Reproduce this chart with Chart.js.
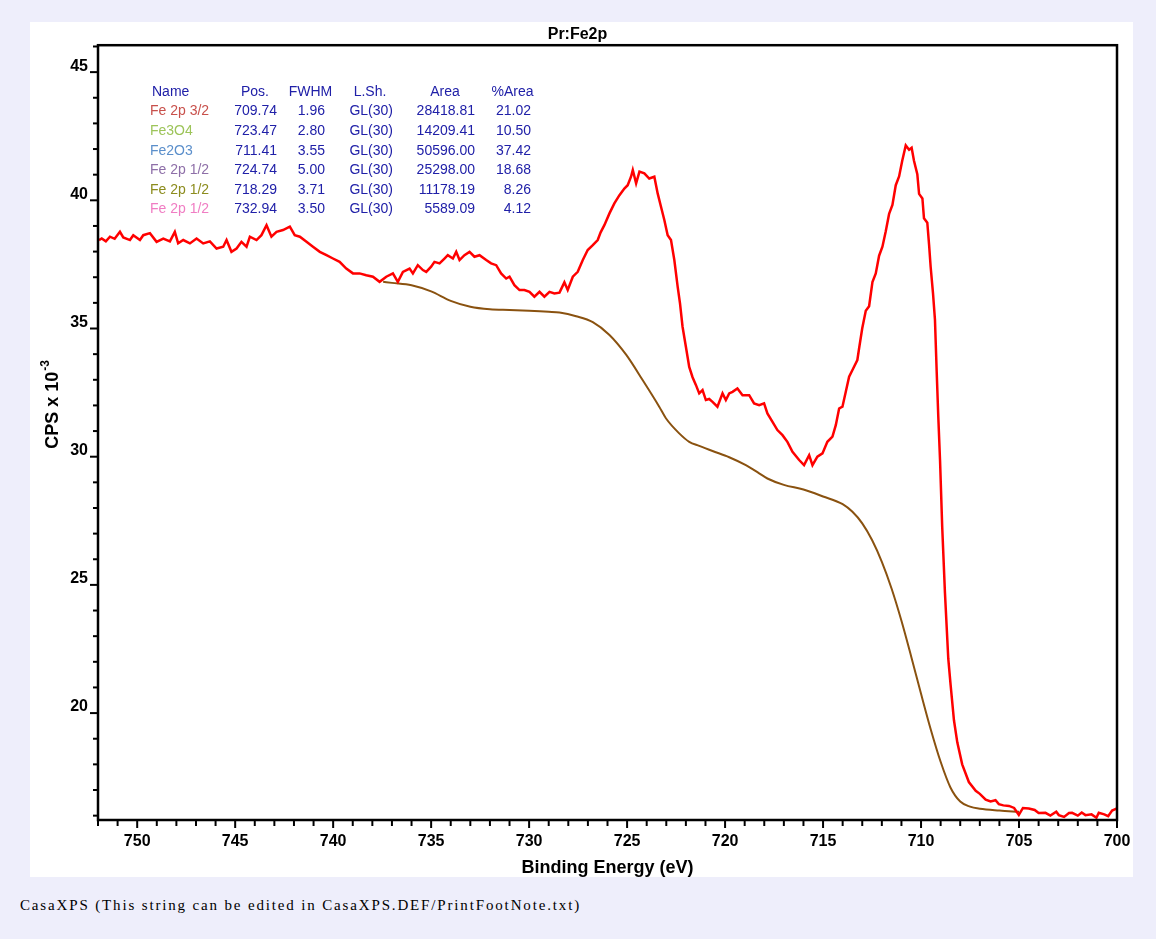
<!DOCTYPE html>
<html>
<head>
<meta charset="utf-8">
<script src="https://cdn.jsdelivr.net/npm/chart.js@4.4.1/dist/chart.umd.min.js"></script>
<style>
  body { margin: 0; background: #eeeefb; width: 1156px; height: 939px; overflow: hidden; position: relative; }
  #panel { position: absolute; left: 30px; top: 22px; width: 1103px; height: 855px; background: #fff; }
  #foot { position: absolute; left: 20px; top: 897px; font: 15px "Liberation Serif", serif; color: #000; white-space: nowrap; }
</style>
</head>
<body>
<div id="panel"><canvas id="xps" width="1103" height="855"></canvas></div>
<div id="foot">CasaXPS (This string can be edited in CasaXPS.DEF/PrintFootNote.txt)</div>
<script>
// measured spectrum, binding energy (eV) vs CPS x 10^-3
const energy = [751.95,751.81,751.60,751.39,751.15,750.88,750.71,750.37,750.20,749.86,749.69,749.35,749.01,748.67,748.33,748.08,747.91,747.65,747.31,746.97,746.63,746.29,745.95,745.61,745.44,745.19,744.93,744.68,744.42,744.25,743.91,743.66,743.40,743.15,742.89,742.56,742.21,741.96,741.70,741.36,741.03,740.68,740.34,740.01,739.67,739.33,738.99,738.65,738.31,737.97,737.63,737.29,736.95,736.70,736.44,736.10,735.93,735.68,735.42,735.25,735.00,734.83,734.57,734.32,734.15,733.89,733.72,733.55,733.30,733.04,732.79,732.53,732.19,731.94,731.68,731.43,731.17,731.00,730.75,730.49,730.24,729.98,729.73,729.47,729.22,728.96,728.71,728.45,728.20,728.03,727.77,727.52,727.26,727.01,726.75,726.50,726.35,726.16,725.90,725.65,725.39,725.14,724.97,724.80,724.71,724.54,724.37,724.12,723.87,723.61,723.44,723.27,723.10,722.93,722.76,722.59,722.42,722.30,722.17,722.00,721.83,721.66,721.49,721.32,721.15,720.98,720.81,720.64,720.39,720.13,719.96,719.79,719.62,719.37,719.11,718.77,718.52,718.26,718.01,717.84,717.58,717.33,717.07,716.82,716.56,716.22,715.97,715.71,715.54,715.29,715.03,714.78,714.52,714.35,714.18,714.01,713.84,713.67,713.50,713.25,713.16,713.00,712.82,712.65,712.48,712.31,712.14,711.97,711.80,711.63,711.46,711.29,711.12,710.96,710.78,710.61,710.48,710.36,710.19,710.10,709.93,709.85,709.68,709.59,709.51,709.39,709.29,709.20,709.12,709.03,708.92,708.78,708.61,708.49,708.32,708.15,707.90,707.56,707.21,707.00,706.70,706.45,706.20,706.03,705.80,705.51,705.25,705.01,704.80,704.50,704.20,704.00,703.65,703.40,703.10,702.97,702.70,702.45,702.29,702.00,701.80,701.61,701.30,701.05,700.93,700.65,700.45,700.25,700.00];
const cps = [38.45,38.51,38.40,38.58,38.50,38.77,38.55,38.45,38.64,38.45,38.64,38.72,38.38,38.51,38.40,38.77,38.32,38.45,38.32,38.51,38.32,38.40,38.12,38.19,38.45,37.99,38.12,38.38,38.19,38.58,38.45,38.64,39.03,38.58,38.77,38.84,38.97,38.64,38.58,38.38,38.19,37.99,37.86,37.73,37.60,37.34,37.15,37.15,37.08,37.02,36.82,37.02,37.15,36.82,37.21,37.34,37.15,37.47,37.28,37.21,37.41,37.60,37.54,37.73,37.86,37.73,37.99,37.67,37.86,37.99,37.80,37.86,37.67,37.54,37.47,37.15,36.95,37.02,36.69,36.50,36.50,36.43,36.24,36.43,36.24,36.43,36.37,36.40,36.80,36.50,37.02,37.21,37.67,38.06,38.25,38.45,38.75,39.03,39.49,39.88,40.20,40.46,40.59,40.92,41.18,40.66,41.12,41.05,40.85,40.92,40.27,39.75,39.23,38.64,38.45,37.67,36.63,35.98,35.07,34.29,33.50,33.10,32.80,32.47,32.60,32.21,32.25,32.14,31.95,32.47,32.21,32.47,32.53,32.66,32.40,32.40,32.08,32.01,32.08,31.69,31.36,31.04,30.84,30.58,30.19,29.87,29.67,30.06,29.67,30.00,30.13,30.58,30.78,31.23,31.88,31.95,32.53,33.12,33.38,33.77,34.23,35.01,35.69,35.87,36.81,37.15,37.84,38.19,38.79,39.47,39.82,40.59,40.93,41.54,42.14,41.97,42.05,41.54,41.02,40.25,40.07,39.30,39.13,38.27,37.41,36.38,35.35,33.29,31.57,29.85,27.27,24.70,22.12,21.09,19.72,18.86,18.00,17.31,16.97,16.85,16.62,16.55,16.60,16.45,16.40,16.38,16.30,16.03,16.30,16.28,16.22,16.10,16.11,16.00,16.15,16.02,15.95,16.10,16.11,16.00,16.12,16.02,16.05,15.92,16.11,16.05,15.98,16.20,16.28];

// Shirley-type background
const bgEnergy = [737.45,737.00,736.00,735.00,734.00,733.00,732.00,731.00,730.00,729.00,728.45,727.60,726.75,725.90,725.05,724.20,723.36,723.02,722.34,721.83,721.32,720.64,719.79,718.94,718.26,717.84,717.00,716.00,715.00,714.00,713.50,713.00,712.50,712.00,711.50,711.00,710.50,710.00,709.50,709.00,708.50,708.00,707.50,707.00,706.00,705.00];
const bgCps = [36.82,36.78,36.69,36.45,36.08,35.85,35.75,35.72,35.69,35.65,35.62,35.48,35.25,34.75,33.98,32.98,31.95,31.50,30.91,30.58,30.42,30.22,29.98,29.67,29.35,29.15,28.90,28.72,28.45,28.15,27.85,27.40,26.75,25.90,24.85,23.60,22.20,20.75,19.35,18.10,17.10,16.55,16.35,16.27,16.20,16.15];

// component table
const compNames = ['Fe 2p 3/2', 'Fe3O4', 'Fe2O3', 'Fe 2p 1/2', 'Fe 2p 1/2', 'Fe 2p 1/2'];
const compColors = ['#c8504b', '#9dc45a', '#5b8fcb', '#8e6fa8', '#8c8c1e', '#f07dc3'];
const compPos = [709.74, 723.47, 711.41, 724.74, 718.29, 732.94];
const compFwhm = [1.96, 2.80, 3.55, 5.00, 3.71, 3.50];
const compShape = ['GL(30)', 'GL(30)', 'GL(30)', 'GL(30)', 'GL(30)', 'GL(30)'];
const compArea = [28418.81, 14209.41, 50596.00, 25298.00, 11178.19, 5589.09];
const compPct = [21.02, 10.50, 37.42, 18.68, 8.26, 4.12];

const FONT = 'Liberation Sans';
const tickFont = { family: FONT, size: 16, weight: 'bold' };

// box round the plot + tick marks (longer on multiples of 5)
const framePlugin = {
  id: 'frame',
  afterDraw(chart) {
    const { ctx, chartArea: a, scales } = chart;
    ctx.save();
    ctx.strokeStyle = '#000';
    ctx.lineWidth = 2;
    scales.x.ticks.forEach(t => {
      const px = scales.x.getPixelForValue(t.value);
      const len = Math.round(t.value) % 5 === 0 ? 8 : 6;
      ctx.beginPath(); ctx.moveTo(px, a.bottom); ctx.lineTo(px, a.bottom + len); ctx.stroke();
    });
    scales.y.ticks.forEach(t => {
      const py = scales.y.getPixelForValue(t.value);
      const len = Math.round(t.value) % 5 === 0 ? 8 : 5;
      ctx.beginPath(); ctx.moveTo(a.left, py); ctx.lineTo(a.left - len, py); ctx.stroke();
    });
    ctx.lineWidth = 2.5;
    ctx.strokeRect(a.left, a.top, a.right - a.left, a.bottom - a.top);
    ctx.restore();
  }
};

const tablePlugin = {
  id: 'table',
  afterDraw(chart) {
    const ctx = chart.ctx;
    const blue = '#2020a8';
    const rowH = 19.6, y0 = 70;
    ctx.save();
    ctx.font = '14px ' + FONT;
    ctx.textBaseline = 'middle';
    ctx.fillStyle = blue;
    ctx.textAlign = 'left';
    ctx.fillText('Name', 122, y0);
    ctx.textAlign = 'center';
    [['Pos.', 225], ['FWHM', 280.5], ['L.Sh.', 340], ['Area', 415], ['%Area', 482.5]]
      .forEach(([h, x]) => ctx.fillText(h, x, y0));
    compNames.forEach((n, i) => {
      const y = y0 + rowH * (i + 1);
      ctx.textAlign = 'left';
      ctx.fillStyle = compColors[i];
      ctx.fillText(n, 120, y);
      ctx.fillStyle = blue;
      ctx.textAlign = 'right';
      ctx.fillText(compPos[i].toFixed(2), 247, y);
      ctx.fillText(compFwhm[i].toFixed(2), 295, y);
      ctx.fillText(compShape[i], 363, y);
      ctx.fillText(compArea[i].toFixed(2), 445, y);
      ctx.fillText(compPct[i].toFixed(2), 501, y);
    });
    ctx.restore();
  }
};

// y title with a real superscript
const yTitlePlugin = {
  id: 'ytitle',
  afterDraw(chart) {
    const ctx = chart.ctx;
    const main = 'CPS x 10', sup = '-3';
    ctx.save();
    ctx.translate(21, 383);
    ctx.rotate(-Math.PI / 2);
    ctx.fillStyle = '#000';
    ctx.textBaseline = 'alphabetic';
    ctx.font = 'bold 18px ' + FONT;
    const w1 = ctx.measureText(main).width;
    ctx.font = 'bold 12px ' + FONT;
    const w2 = ctx.measureText(sup).width;
    const x0 = -(w1 + w2) / 2;
    ctx.font = 'bold 18px ' + FONT;
    ctx.fillText(main, x0, 7);
    ctx.font = 'bold 12px ' + FONT;
    ctx.fillText(sup, x0 + w1 + 1, -2);
    ctx.restore();
  }
};

new Chart(document.getElementById('xps'), {
  type: 'scatter',
  data: {
    datasets: [{
      label: 'Pr:Fe2p',
      data: energy.map((e, i) => ({ x: e, y: cps[i] })),
      showLine: true,
      borderColor: '#ff0000',
      borderWidth: 2.5,
      pointRadius: 0,
      tension: 0
    }, {
      label: 'Background',
      data: bgEnergy.map((e, i) => ({ x: e, y: bgCps[i] })),
      showLine: true,
      borderColor: '#8a5210',
      borderWidth: 2,
      pointRadius: 0,
      cubicInterpolationMode: 'monotone'
    }]
  },
  options: {
    responsive: false,
    animation: false,
    events: [],
    layout: { padding: { left: 8, right: 16, top: 0, bottom: 0 } },
    plugins: {
      legend: { display: false },
      tooltip: { enabled: false },
      title: {
        display: true,
        text: 'Pr:Fe2p',
        color: '#000',
        font: { family: FONT, size: 16, weight: 'bold' },
        padding: { top: 3, bottom: 1 }
      }
    },
    scales: {
      x: {
        type: 'linear',
        reverse: true,
        min: 700,
        max: 752,
        grid: { display: false, drawTicks: false },
        border: { display: false },
        ticks: {
          stepSize: 1,
          autoSkip: false,
          maxRotation: 0,
          includeBounds: false,
          padding: 12,
          color: '#000',
          font: tickFont,
          callback: v => (Math.round(v) % 5 === 0 ? String(Math.round(v)) : '')
        },
        title: {
          display: true,
          text: 'Binding Energy (eV)',
          color: '#000',
          font: { family: FONT, size: 18, weight: 'bold', lineHeight: 1 },
          padding: 0
        },
        afterFit: s => { s.height = 57; s.paddingLeft = 0; s.paddingRight = 0; }
      },
      y: {
        min: 15.83,
        max: 46.05,
        grid: { display: false, drawTicks: false },
        border: { display: false },
        ticks: {
          stepSize: 1,
          autoSkip: false,
          includeBounds: false,
          padding: 10,
          labelOffset: -6,
          color: '#000',
          font: tickFont,
          callback: v => (Math.round(v) % 5 === 0 ? String(Math.round(v)) : '')
        },
        afterFit: s => { s.width = 60; }
      }
    }
  },
  plugins: [framePlugin, tablePlugin, yTitlePlugin]
});

// footnote is printed letter-spaced in the original
const foot = document.getElementById('foot');
const w0 = foot.getBoundingClientRect().width;
foot.style.letterSpacing = ((561 - w0) / foot.textContent.length) + 'px';
</script>
</body>
</html>
